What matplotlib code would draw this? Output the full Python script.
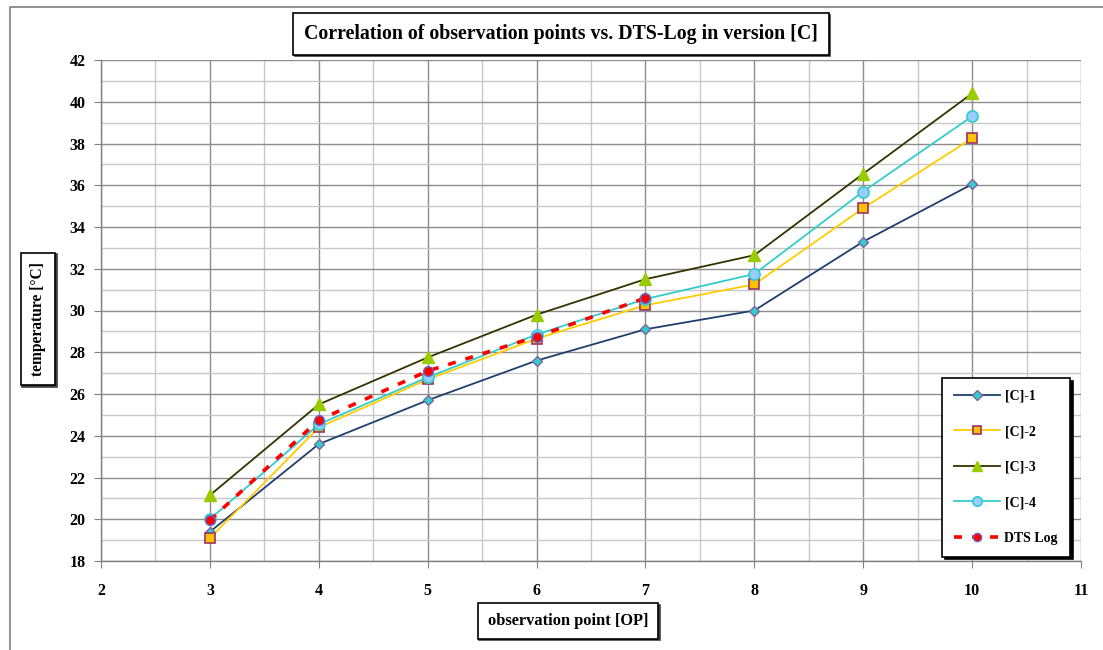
import matplotlib
matplotlib.use("Agg")
import matplotlib.pyplot as plt
from matplotlib.patches import Rectangle
from matplotlib.ticker import MultipleLocator

plt.rcParams['font.family'] = ['Liberation Serif', 'DejaVu Serif']
plt.rcParams['font.weight'] = 'bold'

# observation points and temperatures per series
op = [3, 4, 5, 6, 7, 8, 9, 10]
c1 = [19.4, 23.6, 25.7, 27.6, 29.1, 30.0, 33.3, 36.05]
c2 = [19.1, 24.4, 26.7, 28.65, 30.25, 31.25, 34.9, 38.25]
c3 = [21.15, 25.5, 27.75, 29.8, 31.5, 32.65, 36.55, 40.4]
c4 = [20.0, 24.55, 26.8, 28.85, 30.55, 31.75, 35.7, 39.3]
dts_op = [3, 4, 5, 6, 7]
dts = [19.95, 24.75, 27.1, 28.75, 30.6]

labels = ['[C]-1', '[C]-2', '[C]-3', '[C]-4', 'DTS Log']
x_ticks = list(range(2, 12))
y_ticks = list(range(18, 43, 2))

W, H = 1103, 650
fig = plt.figure(figsize=(W / 100, H / 100), dpi=100)
fig.patch.set_facecolor('white')

# outer chart-area frame
fig.add_artist(Rectangle((10 / W, -0.1), 1.2, 1 - 7 / H + 0.1,
                         transform=fig.transFigure, fill=False,
                         edgecolor='#7f7f7f', linewidth=1.2))

ax = fig.add_axes([101 / W, 1 - 561 / H, (1081 - 101) / W, (561 - 60) / H])

ax.plot(op, c1, color='#1f3f6e', lw=1.3, marker='D', ms=5.5,
        mfc='#33cccc', mec='#8064a2', mew=1.0, label=labels[0], zorder=3)
ax.plot(op, c2, color='#ffcc00', lw=1.3, marker='s', ms=7,
        mfc='#ffc000', mec='#993366', mew=1.2, label=labels[1], zorder=3)
ax.plot(op, c3, color='#333300', lw=1.3, marker='^', ms=8,
        mfc='#99cc00', mec='#99cc00', mew=1.0, label=labels[2], zorder=3)
ax.plot(op, c4, color='#33cccc', lw=1.3, marker='o', ms=8,
        mfc='#99ccff', mec='#33cccc', mew=1.2, label=labels[3], zorder=3)
ax.plot(dts_op, dts, color='#ff0000', lw=2.6, ls=(0, (2.2, 2.8)), marker='o',
        ms=7, mfc='#ff0000', mec='#6666cc', mew=1.0, label=labels[4], zorder=4)

ax.set_xlim(2, 11)
ax.set_ylim(18, 42)
ax.set_xticks(x_ticks)
ax.set_yticks(y_ticks)
ax.xaxis.set_minor_locator(MultipleLocator(0.5))
ax.yaxis.set_minor_locator(MultipleLocator(1))
ax.grid(which='major', color='#8c8c8c', lw=1.0, zorder=0)
ax.grid(which='minor', color='#c8c8c8', lw=1.0, zorder=0)
ax.set_axisbelow(True)

for s in ['top', 'right']:
    ax.spines[s].set_visible(False)
for s in ['left', 'bottom']:
    ax.spines[s].set_color('#808080')
    ax.spines[s].set_linewidth(1.0)

ax.tick_params(which='major', direction='out', length=5, color='#808080',
               labelsize=11.5, pad=6)
ax.tick_params(axis='x', which='major', pad=11)
ax.tick_params(which='minor', length=0)
for t in ax.get_xticklabels() + ax.get_yticklabels():
    t.set_fontweight('bold')


def boxed(x, y, s, size, rot=0, pad=0.55):
    """Bold text in a white box with a small dark drop shadow."""
    box = dict(boxstyle=f'square,pad={pad}', fc='white', ec='black', lw=1.2)
    shadow = dict(boxstyle=f'square,pad={pad}', fc='#404040', ec='#404040', lw=1.2)
    fig.text(x + 1.5 / W, y - 1.5 / H, s, fontsize=size, fontweight='bold',
             ha='center', va='center', rotation=rot, bbox=shadow, color='#404040')
    fig.text(x, y, s, fontsize=size, fontweight='bold', ha='center',
             va='center', rotation=rot, bbox=box)


boxed(561 / W, 1 - 34 / H,
      'Correlation of observation points vs. DTS-Log in version [C]', 14.3)
boxed(38 / W, 1 - 319 / H, 'temperature [°C]', 11.2, rot=90, pad=0.6)
boxed(568 / W, 1 - 621 / H, 'observation point [OP]', 11.8, pad=0.6)

leg = ax.legend(loc='upper left', bbox_to_anchor=(942 / W, 1 - 378 / H),
                bbox_transform=fig.transFigure, borderaxespad=0,
                fontsize=10, handlelength=3.3, handletextpad=0.35,
                labelspacing=1.62, borderpad=0.85, fancybox=False,
                markerscale=0.85,
                shadow={'facecolor': 'black', 'edgecolor': 'black', 'alpha': 1},
                framealpha=1)
leg.get_frame().set_edgecolor('black')
leg.get_frame().set_linewidth(1.2)
for t in leg.get_texts():
    t.set_fontweight('bold')

fig.savefig('out.png', dpi=100)
